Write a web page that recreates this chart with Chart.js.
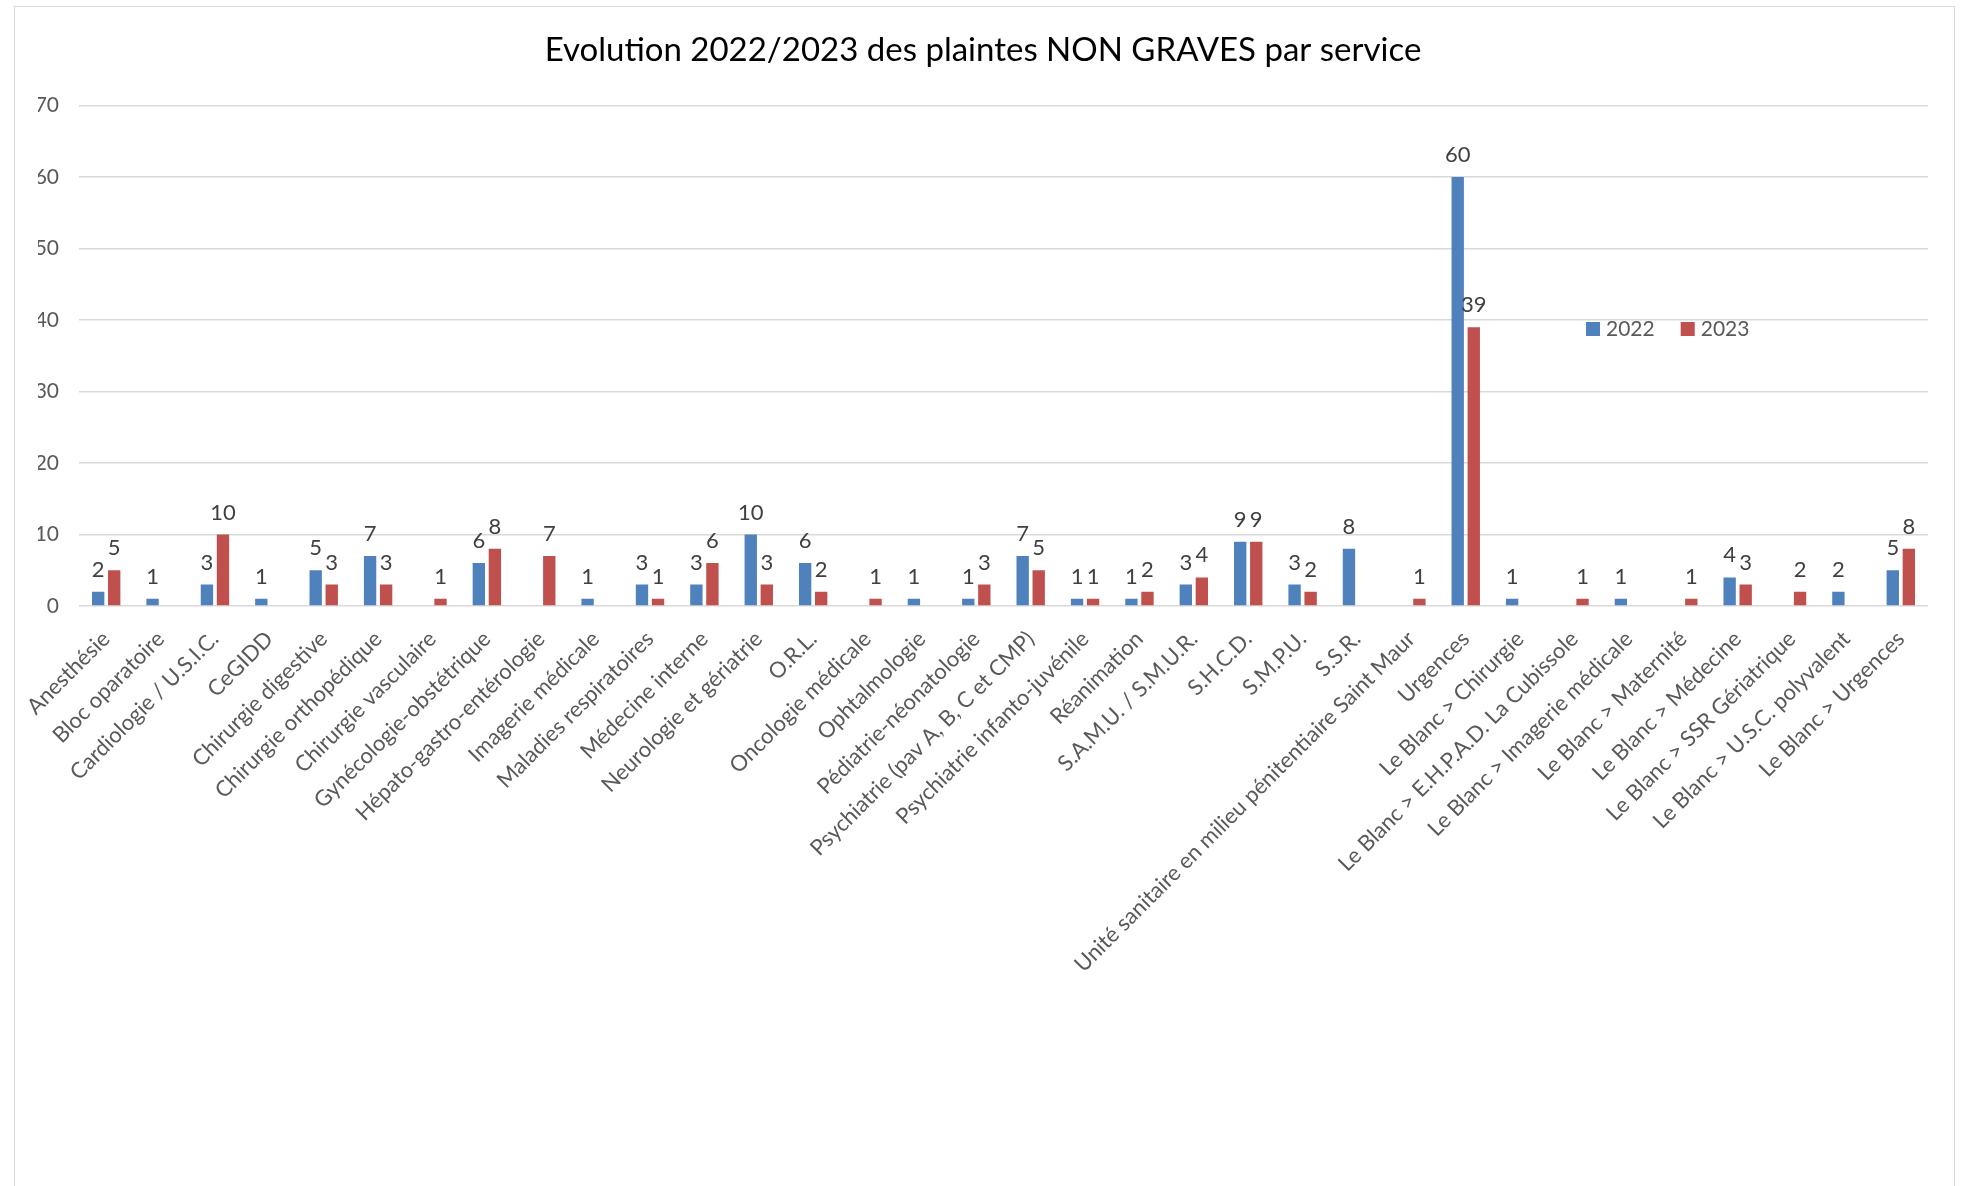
<!DOCTYPE html>
<html>
<head>
<meta charset="utf-8">
<script src="https://cdn.jsdelivr.net/npm/chart.js@4/dist/chart.umd.min.js"></script>
<style>
  html, body { margin: 0; padding: 0; background: #fff; }
  #wrap { position: relative; width: 1966px; height: 1186px; overflow: hidden; }
  #frame { position: absolute; left: 14px; top: 6px; width: 1941px; height: 1300px; border: 1px solid #d9d9d9; box-sizing: border-box; }
  canvas { position: absolute; left: 0; top: 0; }
</style>
</head>
<body>
<div id="wrap">
  <div id="frame"></div>
  <canvas id="c" width="1966" height="1186"></canvas>
</div>
<script>
const chartTitle = "Evolution 2022/2023 des plaintes NON GRAVES par service";
const categories = [
  "Anesthésie", "Bloc oparatoire", "Cardiologie / U.S.I.C.", "CeGIDD",
  "Chirurgie digestive", "Chirurgie orthopédique", "Chirurgie vasculaire",
  "Gynécologie-obstétrique", "Hépato-gastro-entérologie", "Imagerie médicale",
  "Maladies respiratoires", "Médecine interne", "Neurologie et gériatrie", "O.R.L.",
  "Oncologie médicale", "Ophtalmologie", "Pédiatrie-néonatologie",
  "Psychiatrie (pav A, B, C et CMP)", "Psychiatrie infanto-juvénile", "Réanimation",
  "S.A.M.U. / S.M.U.R.", "S.H.C.D.", "S.M.P.U.", "S.S.R.",
  "Unité sanitaire en milieu pénitentiaire Saint Maur", "Urgences",
  "Le Blanc > Chirurgie", "Le Blanc > E.H.P.A.D. La Cubissole",
  "Le Blanc > Imagerie médicale", "Le Blanc > Maternité", "Le Blanc > Médecine",
  "Le Blanc > SSR Gériatrique", "Le Blanc > U.S.C. polyvalent", "Le Blanc > Urgences"
];
const seriesNames = ["2022", "2023"];
const values2022 = [2, 1, 3, 1, 5, 7, null, 6, null, 1, 3, 3, 10, 6, null, 1, 1, 7, 1, 1, 3, 9, 3, 8, null, 60, 1, null, 1, null, 4, null, 2, 5];
const values2023 = [5, null, 10, null, 3, 3, 1, 8, 7, null, 1, 6, 3, 2, 1, null, 3, 5, 1, 2, 4, 9, 2, null, 1, 39, null, 1, null, 1, 3, 2, null, 8];
const yTicks = [0, 10, 20, 30, 40, 50, 60, 70];

const FONT = "Lato, 'Open Sans', sans-serif";
const colors = ["#4F81BD", "#C0504D"];

const valueLabels = {
  id: 'valueLabels',
  afterDatasetsDraw(chart) {
    const ctx = chart.ctx;
    ctx.save();
    ctx.font = "22px " + FONT;
    ctx.fillStyle = "#404040";
    ctx.textAlign = "center";
    ctx.textBaseline = "alphabetic";
    chart.data.datasets.forEach((ds, i) => {
      const meta = chart.getDatasetMeta(i);
      meta.data.forEach((bar, j) => {
        const v = ds.data[j];
        if (v === null || v === undefined) return;
        ctx.fillText(String(v), bar.x, bar.y - 15);
      });
    });
    ctx.restore();
  }
};

const manualLegend = {
  id: 'manualLegend',
  afterDraw(chart) {
    const ctx = chart.ctx;
    ctx.save();
    ctx.font = "21px " + FONT;
    ctx.textBaseline = "middle";
    ctx.textAlign = "left";
    let x = 1586;
    const yc = 329;
    chart.data.datasets.forEach((ds) => {
      ctx.fillStyle = ds.backgroundColor;
      ctx.fillRect(x, yc - 7, 14, 14);
      ctx.fillStyle = "#595959";
      ctx.fillText(ds.label, x + 20, yc);
      x += 20 + ctx.measureText(ds.label).width + 26;
    });
    ctx.restore();
  }
};

new Chart(document.getElementById('c'), {
  type: 'bar',
  data: {
    labels: categories,
    datasets: [
      { label: seriesNames[0], data: values2022, backgroundColor: colors[0], borderWidth: 0 },
      { label: seriesNames[1], data: values2023, backgroundColor: colors[1], borderWidth: 0 }
    ]
  },
  options: {
    responsive: false,
    animation: false,
    devicePixelRatio: 1,
    categoryPercentage: 0.59,
    barPercentage: 0.77,
    layout: { padding: { left: 38, right: 38, top: 10, bottom: 0 } },
    plugins: {
      legend: { display: false },
      tooltip: { enabled: false },
      title: {
        display: true,
        text: chartTitle,
        color: "#000000",
        font: { family: FONT, size: 33, weight: 'normal' },
        padding: { top: 21, bottom: 35 }
      }
    },
    scales: {
      x: {
        grid: { display: false, drawTicks: false },
        border: { display: false },
        ticks: {
          autoSkip: false,
          maxRotation: 45,
          minRotation: 45,
          padding: 20,
          color: "#595959",
          font: { family: FONT, size: 22 }
        },
        afterFit(s) { s.height = 1186 - 606; }
      },
      y: {
        min: 0,
        max: 70,
        afterBuildTicks(s) { s.ticks = yTicks.map(v => ({ value: v })); },
        grid: { color: "#d9d9d9", lineWidth: 1.5, drawTicks: false },
        border: { display: false },
        ticks: {
          padding: 20,
          color: "#595959",
          font: { family: FONT, size: 21 }
        },
        afterFit(s) { s.width = 41; }
      }
    }
  },
  plugins: [valueLabels, manualLegend]
});
</script>
</body>
</html>
